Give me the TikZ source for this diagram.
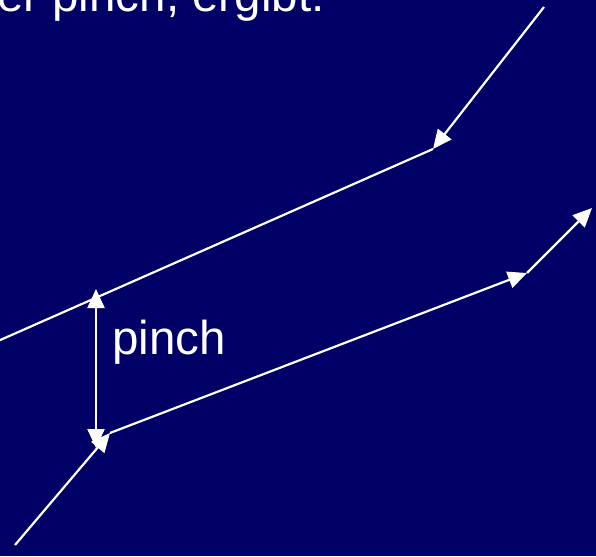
\documentclass[tikz,border=0pt]{standalone}
\usepackage{fontspec}
\setmainfont{Liberation Sans}
\usetikzlibrary{arrows.meta}
\definecolor{slidebg}{RGB}{0,0,102}

\begin{document}
\begin{tikzpicture}[
    x=1pt, y=-1pt,
    every node/.append style={font=\fontsize{47.5}{52}\selectfont, text=white, inner sep=0pt},
    curve/.style={draw=white, line width=2.2pt},
    ray/.style={draw=white, line width=2.2pt, -{Triangle[length=19pt,width=17pt]}},
    gap/.style={draw=white, line width=2.2pt, {Triangle[length=19pt,width=17pt]}-{Triangle[length=19pt,width=17pt]}},
]
\fill[slidebg] (0,0) rectangle (596,556);
\useasboundingbox (0,0) rectangle (596,556);
\clip (0,0) rectangle (596,556);

\node[anchor=base west] (title) at (-3,12) {er pinch, ergibt:};

% upper curve
\coordinate (hin) at (544,7);
\coordinate (hend) at (433,149);
\coordinate (hstart) at (-2,341);
\draw[curve] (hstart) -- (hend);
\draw[ray] (hin) -- (hend);

% lower curve
\coordinate (cin) at (15,545);
\coordinate (cstart) at (110,433);
\coordinate (cend) at (527,273);
\coordinate (cout) at (592,208);
\draw[ray] (cin) -- (cstart);
\draw[ray] (cstart) -- (cend);
\draw[ray] (cend) -- (cout);

% pinch
\coordinate (ptop) at (96,289);
\coordinate (pbot) at (96,448);
\draw[gap] (ptop) -- (pbot);
\node[anchor=base west] (plabel) at (112,354) {pinch};

\end{tikzpicture}
\end{document}
